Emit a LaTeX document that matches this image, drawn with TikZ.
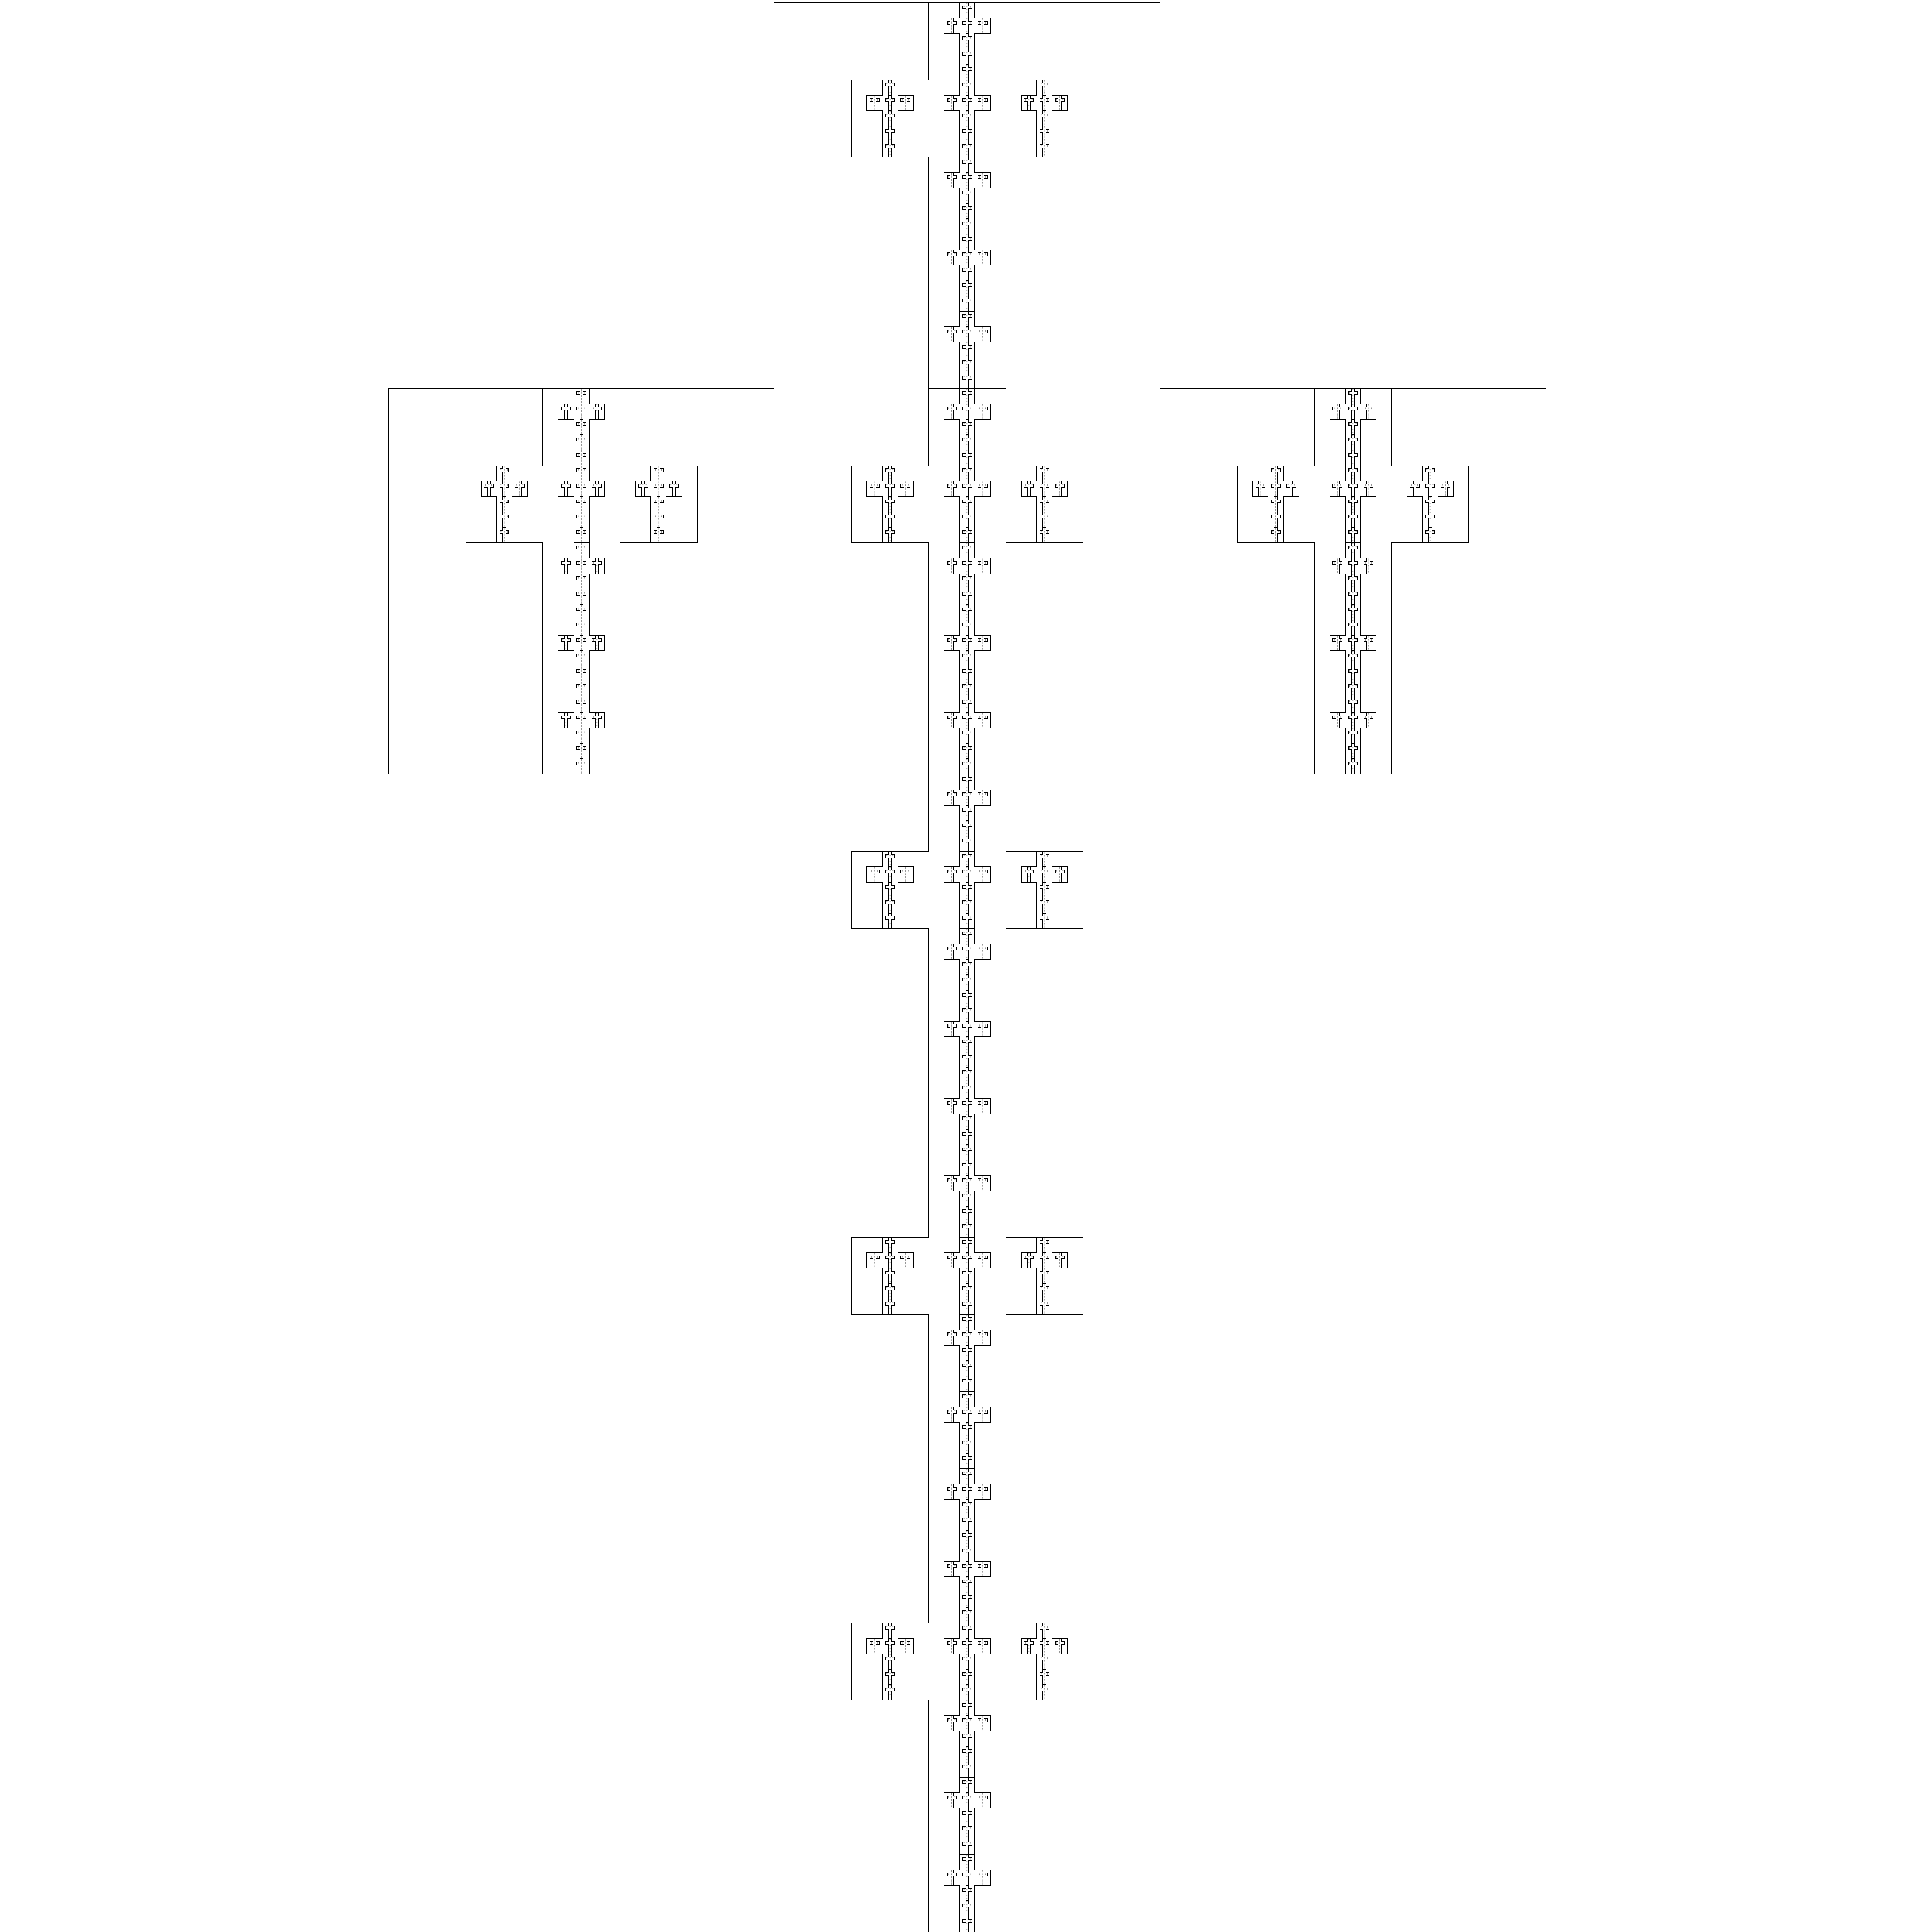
\documentclass[tikz,border=0pt]{standalone}
\tikzset{
  crossline/.style={draw=black, line width=0.29pt, line join=miter},
  dagnode/.style={inner sep=0pt, outer sep=0pt, font=\fontsize{1.8}{2}\selectfont}
}
\newcommand\fcrossshape{%
  \draw[crossline] (1,0) -- (2,0) -- (2,3) -- (3,3) -- (3,4) -- (2,4) -- (2,5)
    -- (1,5) -- (1,4) -- (0,4) -- (0,3) -- (1,3) -- cycle;}
\newcommand\fcross[1]{%
  \fcrossshape
  \ifnum#1>1
    \foreach \ca/\cb in {1/0,1/1,1/2,1/3,1/4,0/3,2/3}{%
      \begin{scope}[shift={(\ca+0.2,\cb)},scale=0.2]
        \expandafter\fcross\expandafter{\the\numexpr#1-1\relax}
      \end{scope}
    }%
  \else
    \foreach \ca/\cb in {1/0,1/1,1/2,1/3,1/4,0/3,2/3}{%
      \node[dagnode] at (\ca+0.5,\cb+0.5) {\textdagger};
    }%
  \fi
}
\begin{document}
\begin{tikzpicture}
\useasboundingbox (0,0) rectangle (50.08,50.08);
\fill[white] (0,0) rectangle (50.08,50.08);
\begin{scope}[shift={(10.07,0.01)},scale=10]
  \fcross{4}
\end{scope}
\end{tikzpicture}
\end{document}
